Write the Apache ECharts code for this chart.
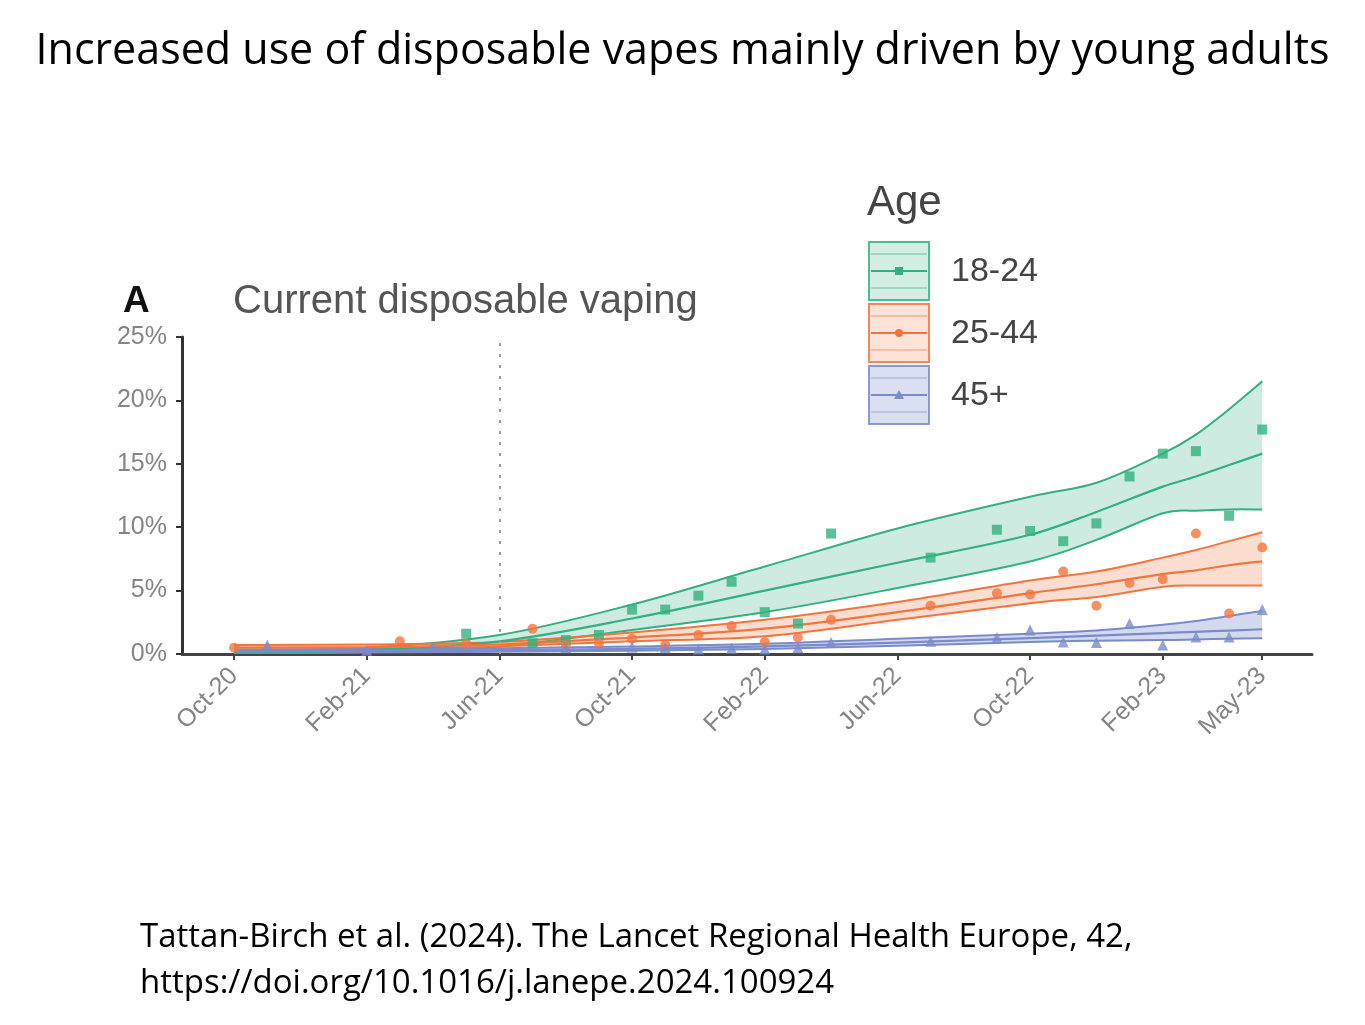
<!DOCTYPE html>
<html><head><meta charset="utf-8">
<script src="https://cdn.jsdelivr.net/npm/echarts@6/dist/echarts.min.js"></script>
<style>html,body{margin:0;padding:0;background:#fff;} #c{width:1365px;height:1025px;}</style>
</head><body><div id="c"></div>
<script>
// ---- data (month index: 0 = Oct-20) ----
const tickMonths = [0, 4, 8, 12, 16, 20, 24, 28, 31];
const tickLabels = ['Oct-20', 'Feb-21', 'Jun-21', 'Oct-21', 'Feb-22', 'Jun-22', 'Oct-22', 'Feb-23', 'May-23'];
const yTicks = [0, 5, 10, 15, 20, 25];
const ageGroups = ['18-24', '25-44', '45+'];
const policyMonth = 8; // Jun-21 dotted line

const months18 = [7, 9, 10, 11, 12, 13, 14, 15, 16, 17, 18, 21, 23, 24, 25, 26, 27, 28, 29, 30, 31];
const points18 = [1.6, 0.85, 1.1, 1.5, 3.5, 3.5, 4.6, 5.7, 3.3, 2.4, 9.5, 7.6, 9.8, 9.7, 8.9, 10.3, 14.0, 15.8, 16.0, 10.9, 17.7];

const months25 = [0, 5, 7, 9, 10, 11, 12, 13, 14, 15, 16, 17, 18, 21, 23, 24, 25, 26, 27, 28, 29, 30, 31];
const points25 = [0.5, 1.0, 0.8, 2.0, 0.7, 0.85, 1.2, 0.7, 1.5, 2.2, 0.95, 1.3, 2.7, 3.8, 4.8, 4.7, 6.5, 3.8, 5.6, 5.9, 9.5, 3.2, 8.4];

const months45 = [1, 4, 6, 10, 12, 13, 14, 15, 16, 17, 18, 21, 23, 24, 25, 26, 27, 28, 29, 30, 31];
const points45 = [0.7, 0.3, 0.6, 0.5, 0.55, 0.5, 0.4, 0.45, 0.4, 0.5, 0.9, 1.0, 1.3, 1.9, 0.95, 0.9, 2.4, 0.7, 1.35, 1.35, 3.5];

const fitMonths = [0, 4, 8, 12, 16, 20, 24, 26, 28, 29, 30, 31];
const fit18   = [0.1, 0.3, 1.0, 2.8, 5.0, 7.2, 9.4, 11.2, 13.2, 14.0, 14.9, 15.8];
const upper18 = [0.2, 0.5, 1.5, 3.9, 6.9, 9.9, 12.4, 13.5, 15.8, 17.3, 19.3, 21.5];
const lower18 = [0.05, 0.15, 0.6, 1.9, 3.3, 5.2, 7.3, 9.0, 11.1, 11.3, 11.4, 11.4];

const fit25   = [0.5, 0.55, 0.75, 1.3, 2.0, 3.3, 4.8, 5.5, 6.3, 6.6, 7.0, 7.3];
const upper25 = [0.7, 0.75, 0.95, 1.7, 2.7, 4.1, 5.8, 6.5, 7.6, 8.2, 8.9, 9.6];
const lower25 = [0.3, 0.4, 0.6, 1.0, 1.4, 2.7, 4.0, 4.5, 5.3, 5.4, 5.4, 5.4];

const fit45   = [0.2, 0.25, 0.3, 0.4, 0.6, 0.9, 1.25, 1.45, 1.65, 1.75, 1.85, 1.95];
const upper45 = [0.35, 0.4, 0.45, 0.6, 0.8, 1.2, 1.6, 1.85, 2.3, 2.6, 3.0, 3.4];
const lower45 = [0.1, 0.12, 0.18, 0.25, 0.4, 0.65, 0.95, 1.05, 1.1, 1.15, 1.2, 1.25];

// ---- styling ----
const colors = ['#33b080', '#f4743f', '#7a8bcb'];
const fills = ['rgba(60,179,134,0.26)', 'rgba(244,116,63,0.24)', 'rgba(122,139,203,0.32)'];
const symbols = ['rect', 'circle', 'triangle'];
const chartFont = '"Liberation Sans", Arial, sans-serif';

const groups = [
  {months: months18, points: points18, fit: fit18, up: upper18, lo: lower18},
  {months: months25, points: points25, fit: fit25, up: upper25, lo: lower25},
  {months: months45, points: points45, fit: fit45, up: upper45, lo: lower45}
];

const zip = (xs, ys) => xs.map((x, i) => [x, ys[i]]);

// Catmull-Rom curve through pixel points, as SVG path commands
function curveCmds(pts, start) {
  let d = start ? ('M' + pts[0][0] + ' ' + pts[0][1]) : ('L' + pts[0][0] + ' ' + pts[0][1]);
  for (let i = 0; i < pts.length - 1; i++) {
    const p0 = pts[i - 1] || pts[i], p1 = pts[i], p2 = pts[i + 1], p3 = pts[i + 2] || pts[i + 1];
    const c1 = [p1[0] + (p2[0] - p0[0]) / 6, p1[1] + (p2[1] - p0[1]) / 6];
    const c2 = [p2[0] - (p3[0] - p1[0]) / 6, p2[1] - (p3[1] - p1[1]) / 6];
    d += ' C' + c1[0] + ' ' + c1[1] + ' ' + c2[0] + ' ' + c2[1] + ' ' + p2[0] + ' ' + p2[1];
  }
  return d;
}

const series = [];
groups.forEach((g, i) => {
  series.push({
    type: 'custom', name: ageGroups[i] + ' CI', z: 2, silent: true, clip: true,
    data: fitMonths.map((m, k) => [m, g.lo[k], g.up[k]]),
    encode: {x: 0, y: [1, 2]},
    renderItem: (params, api) => {
      if (params.dataIndex !== 0) return null;
      const upPts = fitMonths.map((m, k) => api.coord([m, g.up[k]]));
      const loPts = fitMonths.map((m, k) => api.coord([m, g.lo[k]]));
      const upD = curveCmds(upPts, true);
      const loD = curveCmds(loPts, true);
      const fillD = upD + ' ' + curveCmds(loPts.slice().reverse(), false) + ' Z';
      return {type: 'group', children: [
        {type: 'path', shape: {pathData: fillD}, style: {fill: fills[i], stroke: null}},
        {type: 'path', shape: {pathData: upD}, style: {fill: null, stroke: colors[i], lineWidth: 2}},
        {type: 'path', shape: {pathData: loD}, style: {fill: null, stroke: colors[i], lineWidth: 2}}
      ]};
    },
    markLine: i === 0 ? {
      silent: true, symbol: 'none', label: {show: false},
      lineStyle: {color: '#9a9a9a', type: [3, 8], width: 2},
      data: [{xAxis: policyMonth}]
    } : undefined
  });
  series.push({
    type: 'line', name: ageGroups[i] + ' fit', smooth: 0.35,
    symbol: 'none', data: zip(fitMonths, g.fit), z: 3,
    lineStyle: {color: colors[i], width: 2.2}
  });
});
groups.forEach((g, i) => {
  series.push({
    type: 'scatter', name: ageGroups[i], symbol: symbols[i],
    symbolSize: i === 2 ? 11 : 10, data: zip(g.months, g.points), z: 5,
    itemStyle: {color: colors[i]}
  });
});

// legend graphics
const legendEls = [{
  type: 'text', left: 867, top: 182,
  style: {text: 'Age', font: '42px ' + chartFont, fill: '#444'}
}];
ageGroups.forEach((name, i) => {
  const top = 242 + i * 62, h = 58, x0 = 869, w = 60, mid = top + h / 2;
  legendEls.push({type: 'rect', shape: {x: x0, y: top, width: w, height: h},
    style: {fill: fills[i], stroke: colors[i], lineWidth: 2, opacity: 0.85}});
  legendEls.push({type: 'line', shape: {x1: x0 + 2, y1: mid - 17, x2: x0 + w - 2, y2: mid - 17},
    style: {stroke: colors[i], lineWidth: 1.5, opacity: 0.45}});
  legendEls.push({type: 'line', shape: {x1: x0 + 2, y1: mid + 17, x2: x0 + w - 2, y2: mid + 17},
    style: {stroke: colors[i], lineWidth: 1.5, opacity: 0.45}});
  legendEls.push({type: 'line', shape: {x1: x0 + 2, y1: mid, x2: x0 + w - 2, y2: mid},
    style: {stroke: colors[i], lineWidth: 2}});
  const cx = x0 + w / 2;
  if (i === 0) legendEls.push({type: 'rect', shape: {x: cx - 4, y: mid - 4, width: 8, height: 8}, style: {fill: colors[i]}});
  if (i === 1) legendEls.push({type: 'circle', shape: {cx: cx, cy: mid, r: 4}, style: {fill: colors[i]}});
  if (i === 2) legendEls.push({type: 'polygon', shape: {points: [[cx, mid - 5], [cx + 5, mid + 4], [cx - 5, mid + 4]]}, style: {fill: colors[i]}});
  legendEls.push({type: 'text', left: 951, top: mid - 16,
    style: {text: name, font: '34px ' + chartFont, fill: '#444'}});
});

const chart = echarts.init(document.getElementById('c'));
chart.setOption({
  animation: false,
  backgroundColor: '#fff',
  grid: {left: 182, right: 53, top: 337, bottom: 371, containLabel: false},
  xAxis: {
    type: 'value', min: -1.57, max: 32.5,
    splitLine: {show: false},
    axisLine: {show: true, onZero: false, lineStyle: {color: '#444', width: 3}},
    axisTick: {show: true, customValues: tickMonths, length: 6, lineStyle: {color: '#444', width: 2}},
    axisLabel: {customValues: tickMonths, rotate: 45, margin: 18, fontSize: 25,
      fontFamily: chartFont, color: '#858585',
      formatter: v => tickLabels[tickMonths.indexOf(v)]}
  },
  yAxis: {
    type: 'value', min: yTicks[0], max: yTicks[yTicks.length - 1], interval: 5,
    splitLine: {show: false},
    axisLine: {show: true, onZero: false, lineStyle: {color: '#333', width: 3}},
    axisTick: {show: true, length: 6, lineStyle: {color: '#333', width: 2}},
    axisLabel: {margin: 15, fontSize: 25, fontFamily: chartFont,
      color: '#858585', formatter: '{value}%'}
  },
  graphic: [
    {type: 'text', left: 'center', top: 30,
      style: {text: 'Increased use of disposable vapes mainly driven by young adults',
        font: '43px "Open Sans", sans-serif', fill: '#000'}},
    {type: 'text', left: 123, top: 283,
      style: {text: 'A', font: 'bold 37px ' + chartFont, fill: '#111'}},
    {type: 'text', left: 233, top: 282,
      style: {text: 'Current disposable vaping', font: '40px ' + chartFont, fill: '#555'}},
    {type: 'text', left: 140, top: 915,
      style: {text: 'Tattan-Birch et al. (2024). The Lancet Regional Health Europe, 42,\nhttps://doi.org/10.1016/j.lanepe.2024.100924',
        font: '33px "Open Sans", sans-serif', fill: '#000', lineHeight: 46}}
  ].concat(legendEls),
  series: series
});
</script></body></html>
